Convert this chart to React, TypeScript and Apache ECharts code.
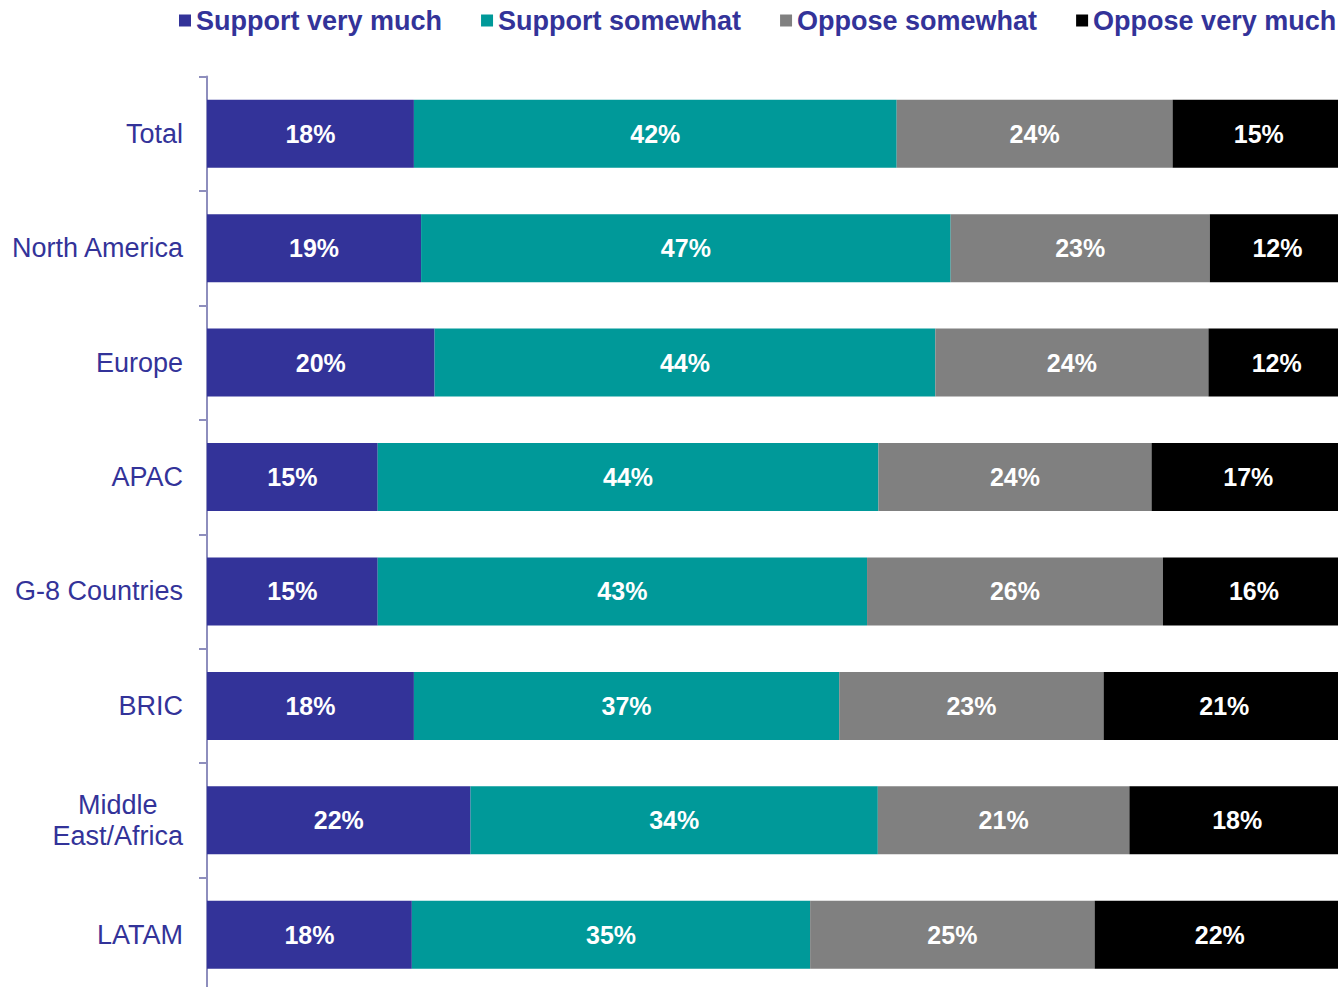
import React, { useEffect, useRef } from 'react';
import * as echarts from 'echarts';

const categories = ['Total', 'North America', 'Europe', 'APAC', 'G-8 Countries', 'BRIC', 'Middle\nEast/Africa', 'LATAM'];
const seriesNames = ['Support very much', 'Support somewhat', 'Oppose somewhat', 'Oppose very much'];
const supportVeryMuch = [18, 19, 20, 15, 15, 18, 22, 18];
const supportSomewhat = [42, 47, 44, 44, 43, 37, 34, 35];
const opposeSomewhat = [24, 23, 24, 24, 26, 23, 21, 25];
const opposeVeryMuch = [15, 12, 12, 17, 16, 21, 18, 22];
const colors = ['#333399', '#009999', '#808080', '#000000'];

const FONT = 'Arial, "Liberation Sans", Helvetica, sans-serif';

export default function App() {
  const ref = useRef<HTMLDivElement>(null);
  useEffect(() => {
    if (!ref.current) return;
    const chart = echarts.init(ref.current, undefined, { renderer: 'svg' });
    const all = [supportVeryMuch, supportSomewhat, opposeSomewhat, opposeVeryMuch];
    const rowSums = categories.map((_, i) => all.reduce((s, arr) => s + arr[i], 0));
    const axisColor = '#8e8ebd';
    chart.setOption({
      animation: false,
      legend: {
        data: seriesNames,
        left: 179,
        top: 7,
        padding: 0,
        itemGap: 39,
        itemWidth: 12,
        itemHeight: 12,
        icon: 'rect',
        textStyle: { fontSize: 27, fontWeight: 'bold', color: '#333399', fontFamily: FONT },
      },
      grid: { left: 207, right: -7, top: 76.5, bottom: -5, containLabel: false, outerBoundsMode: 'none' },
      xAxis: { type: 'value', min: 0, max: 100, show: false },
      yAxis: {
        type: 'category',
        inverse: true,
        data: categories,
        axisLine: { show: true, lineStyle: { color: axisColor, width: 2 } },
        axisTick: { show: true, length: 8, lineStyle: { color: axisColor, width: 2 } },
        axisLabel: {
          margin: 24,
          fontSize: 27,
          color: '#333399',
          fontFamily: FONT,
          formatter: (v: string) =>
            v.includes('\n') ? v.split('\n').map((s) => `{c|${s}}`).join('\n') : v,
          rich: {
            c: { align: 'center', lineHeight: 31, fontSize: 27, color: '#333399', fontFamily: FONT },
          },
        },
      },
      series: all.map((arr, si) => ({
        name: seriesNames[si],
        type: 'bar',
        stack: 'total',
        barWidth: 68,
        itemStyle: { color: colors[si] },
        label: {
          show: true,
          position: 'inside',
          color: '#ffffff',
          fontWeight: 'bold',
          fontSize: 25,
          fontFamily: FONT,
          formatter: (p: any) => `${p.data.raw}%`,
        },
        data: arr.map((v, i) => ({ value: (v / rowSums[i]) * 100, raw: v })),
      })),
    });
    return () => chart.dispose();
  }, []);
  return <div ref={ref} style={{ position: 'absolute', left: 0, top: 0, width: 1338, height: 987 }} />;
}
